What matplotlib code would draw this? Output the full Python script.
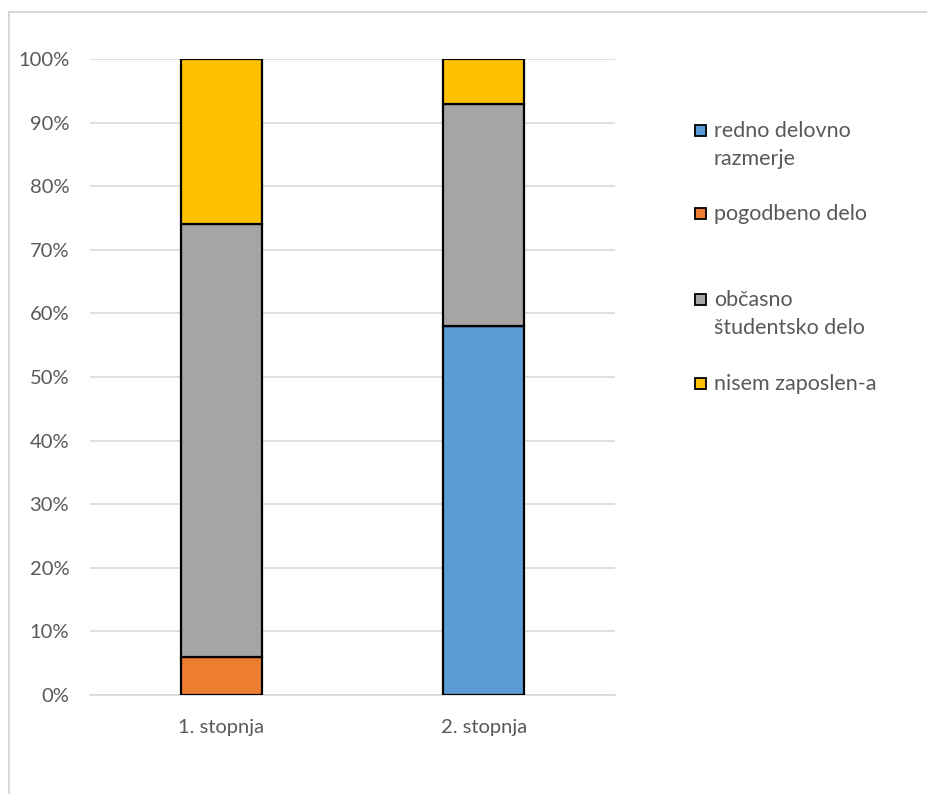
import matplotlib
matplotlib.use('Agg')

import matplotlib.pyplot as plt
from matplotlib.patches import Rectangle
from matplotlib.ticker import PercentFormatter

# Data (shares in %)
categories = ["1. stopnja", "2. stopnja"]
series_names = ["redno delovno\nrazmerje", "pogodbeno delo",
                "občasno\nštudentsko delo", "nisem zaposlen-a"]
redno = [0, 58]
pogodbeno = [6, 0]
obcasno = [68, 35]
nisem = [26, 7]
colors = ["#5B9BD5", "#ED7D31", "#A5A5A5", "#FFC000"]

plt.rcParams['font.family'] = ['Lato', 'DejaVu Sans']
TEXT = "#595959"
GRID = "#D9D9D9"

fig = plt.figure(figsize=(9.28, 7.94), dpi=100, facecolor="white")

# Outer chart frame (Excel style)
fig.patches.append(Rectangle((9 / 928, -0.1), 1.2, 1 - 12 / 794 + 0.1,
                             transform=fig.transFigure, fill=False,
                             edgecolor=GRID, linewidth=1.5))

ax = fig.add_axes([90 / 928, 1 - 695 / 794, 525 / 928, 636 / 794])

x = range(len(categories))
bottom = [0] * len(categories)
for values, color in zip([redno, pogodbeno, obcasno, nisem], colors):
    ax.bar(x, values, width=0.31, bottom=bottom, color=color,
           edgecolor="black", linewidth=1.6, zorder=3)
    bottom = [b + v for b, v in zip(bottom, values)]

ax.set_xlim(-0.5, 1.5)
ax.set_ylim(0, 100)
ax.set_yticks(range(0, 101, 10))
ax.yaxis.set_major_formatter(PercentFormatter(decimals=0))
ax.set_xticks(list(x))
ax.set_xticklabels(categories)

ax.grid(axis="y", color=GRID, linewidth=1.2, zorder=0)
for side in ["top", "right", "left"]:
    ax.spines[side].set_visible(False)
ax.spines["bottom"].set_color(GRID)
ax.spines["bottom"].set_linewidth(1.2)
ax.tick_params(axis="y", length=0, pad=15, labelsize=14.5, labelcolor=TEXT)
ax.tick_params(axis="x", length=0, pad=17.5, labelsize=14.5, labelcolor=TEXT)

# Legend drawn by hand so the marker sits on the first line of each label
legend_y = [130, 213, 299, 383]
for name, color, ly in zip(series_names, colors, legend_y):
    fig.patches.append(Rectangle((695 / 928, 1 - (ly + 6) / 794), 11 / 928, 11 / 794,
                                 transform=fig.transFigure, facecolor=color,
                                 edgecolor="black", linewidth=1.3))
    fig.text(714 / 928, 1 - (ly - 9) / 794, name, ha="left", va="top",
             fontsize=15.5, color=TEXT, linespacing=1.5)

fig.savefig("out.png", dpi=100, facecolor="white")
plt.close(fig)
